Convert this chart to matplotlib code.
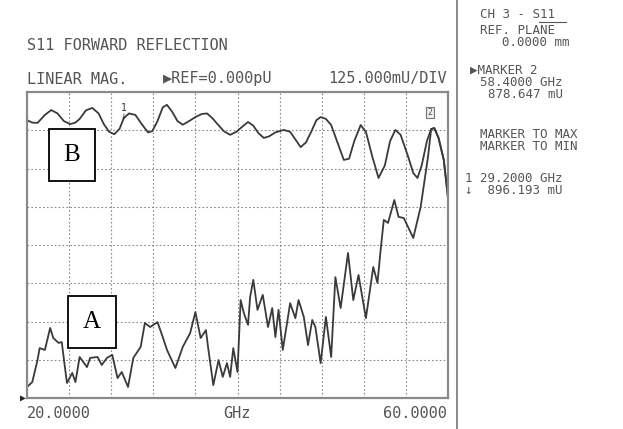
import matplotlib
matplotlib.use("Agg")
import matplotlib.pyplot as plt
from matplotlib.lines import Line2D

# trace B (upper), GHz / mU
b_ghz = [20.0, 20.5, 21.0, 21.7, 22.3, 22.9, 23.5, 24.1, 24.6, 25.0, 25.6, 26.2,
         26.8, 27.3, 27.8, 28.3, 28.8, 29.2, 29.7, 30.3, 30.9, 31.5, 31.9, 32.4,
         32.9, 33.3, 33.8, 34.3, 34.8, 35.4, 36.0, 36.6, 37.1, 37.6, 38.1, 38.7,
         39.3, 39.9, 40.5, 41.0, 41.5, 42.0, 42.5, 43.0, 43.6, 44.4, 45.0, 45.6,
         46.0, 46.5, 47.0, 47.5, 47.9, 48.4, 48.9, 49.5, 50.1, 50.6, 51.1, 51.7,
         52.2, 52.8, 53.4, 54.0, 54.5, 55.0, 55.5, 56.2, 56.7, 57.1, 57.5, 58.0,
         58.4, 58.7, 59.1, 59.6, 60.0]
b_mu = [908, 900, 899, 925, 941, 930, 905, 895, 900, 912, 940, 948,
        930, 895, 870, 862, 880, 915, 930, 925, 895, 868, 872, 905,
        950, 958, 935, 905, 893, 905, 918, 928, 930, 915, 895, 872,
        860, 870, 888, 902, 890, 865, 850, 855, 868, 876, 870, 840,
        820, 835, 870, 908, 918, 912, 892, 835, 778, 782, 840, 892,
        870, 790, 719, 760, 840, 876, 860, 790, 735, 719, 760, 840,
        879, 882, 850, 778, 654]

# trace A (lower)
a_ghz = [20.0, 20.5, 21.0, 21.2, 21.7, 22.2, 22.5, 23.0, 23.3, 23.6, 23.8, 24.3,
         24.6, 25.0, 25.7, 26.0, 26.7, 27.1, 27.6, 28.1, 28.6, 29.0, 29.6, 30.1,
         30.8, 31.2, 31.7, 32.4, 32.9, 33.3, 34.1, 34.8, 35.5, 36.0, 36.5, 37.0,
         37.2, 37.7, 38.2, 38.6, 39.0, 39.3, 39.6, 40.0, 40.3, 40.6, 41.0, 41.2,
         41.5, 41.9, 42.4, 42.9, 43.3, 43.6, 43.9, 44.3, 44.8, 45.0, 45.5, 45.8,
         46.3, 46.7, 47.1, 47.4, 47.9, 48.4, 48.9, 49.3, 49.8, 50.5, 51.0, 51.5,
         52.2, 52.9, 53.3, 53.6, 53.9, 54.3, 54.9, 55.3, 55.8, 56.7, 57.4, 58.1,
         58.4, 58.7, 59.1, 59.6, 60.0]
a_mu = [36, 52, 124, 163, 157, 229, 196, 180, 183, 101, 49, 82,
        52, 134, 101, 131, 134, 108, 131, 141, 65, 85, 36, 131,
        167, 245, 232, 248, 199, 157, 98, 167, 212, 281, 196, 222,
        167, 42, 124, 69, 114, 69, 163, 85, 320, 278, 239, 330,
        386, 288, 337, 232, 294, 199, 288, 157, 265, 310, 261, 320,
        265, 173, 255, 232, 114, 265, 134, 395, 294, 474, 320, 402,
        261, 428, 376, 484, 582, 572, 647, 592, 588, 523, 624, 788,
        879, 882, 850, 778, 654]

W, H = 623, 429
TXT = "#555555"
MONO = "DejaVu Sans Mono"


def fx(x):
    return x / W


def fy(y):
    return 1 - y / H


fig = plt.figure(figsize=(W / 100, H / 100), dpi=100)
ax = fig.add_axes([fx(27), fy(398), 421 / W, 306 / H])

ax.plot(b_ghz, b_mu, color="#3a3a3a", lw=1.3)
ax.plot(a_ghz, a_mu, color="#3a3a3a", lw=1.3)

ax.set_xlim(20, 60)
ax.set_ylim(0, 1000)
ax.set_xticks([20 + 4 * i for i in range(11)])
ax.set_yticks([125 * i for i in range(9)])
ax.tick_params(length=0, labelbottom=False, labelleft=False)
ax.grid(True, ls=(0, (1.5, 2)), color="#8a8a8a", lw=0.8)
for s in ax.spines.values():
    s.set_color("#8a8a8a")
    s.set_linewidth(1.6)

# markers
ax.text(29.2, 905, "1\n\u2193", fontsize=7, color="#333", ha="center",
        va="bottom", family=MONO, linespacing=0.8)
ax.text(58.3, 918, "2", fontsize=6, color="#555", ha="center", va="bottom",
        family=MONO, bbox=dict(boxstyle="square,pad=0.15", fc="#eee", ec="#777", lw=0.8))

# A / B labels
ax_box = dict(boxstyle="square,pad=0.6", fc="white", ec="black", lw=1.3)
fig.text(fx(72), fy(155), "B", fontsize=18, family="Liberation Serif",
         ha="center", va="center", bbox=ax_box)
fig.text(fx(92), fy(322), "A", fontsize=18, family="Liberation Serif",
         ha="center", va="center", bbox=ax_box)

# header text
fig.text(fx(27), fy(45), "S11 FORWARD REFLECTION", fontsize=11, family=MONO,
         color=TXT, va="center")
fig.text(fx(27), fy(79), "LINEAR MAG.", fontsize=11, family=MONO,
         color=TXT, va="center")
fig.text(fx(163), fy(79), "\u25b6REF=0.000pU", fontsize=11, family=MONO,
         color=TXT, va="center")
fig.text(fx(447), fy(79), "125.000mU/DIV", fontsize=11, family=MONO,
         color=TXT, va="center", ha="right")

# bottom labels
fig.text(fx(27), fy(414), "20.0000", fontsize=11, family=MONO, color=TXT, va="center")
fig.text(fx(237), fy(414), "GHz", fontsize=11, family=MONO, color=TXT,
         va="center", ha="center")
fig.text(fx(447), fy(414), "60.0000", fontsize=11, family=MONO, color=TXT,
         va="center", ha="right")
fig.text(fx(20), fy(398), "\u25b6", fontsize=7, family=MONO, color="#222", va="center")

# right panel
fig.add_artist(Line2D([fx(457)] * 2, [0, 1], color="#777", lw=1.2))
side = [
    (480, 15, "CH 3 - S11"),
    (480, 31, "REF. PLANE"),
    (502, 43, "0.0000 mm"),
    (470, 70, "\u25b6MARKER 2"),
    (480, 82, "58.4000 GHz"),
    (488, 95, "878.647 mU"),
    (480, 134, "MARKER TO MAX"),
    (480, 146, "MARKER TO MIN"),
    (465, 179, "1 29.2000 GHz"),
    (465, 191, "\u2193  896.193 mU"),
]
for x, y, s in side:
    fig.text(fx(x), fy(y), s, fontsize=9, family=MONO, color=TXT, va="center")
fig.add_artist(Line2D([fx(539), fx(566)], [fy(22), fy(22)], color=TXT, lw=0.8))

fig.savefig("out.png", dpi=100)
